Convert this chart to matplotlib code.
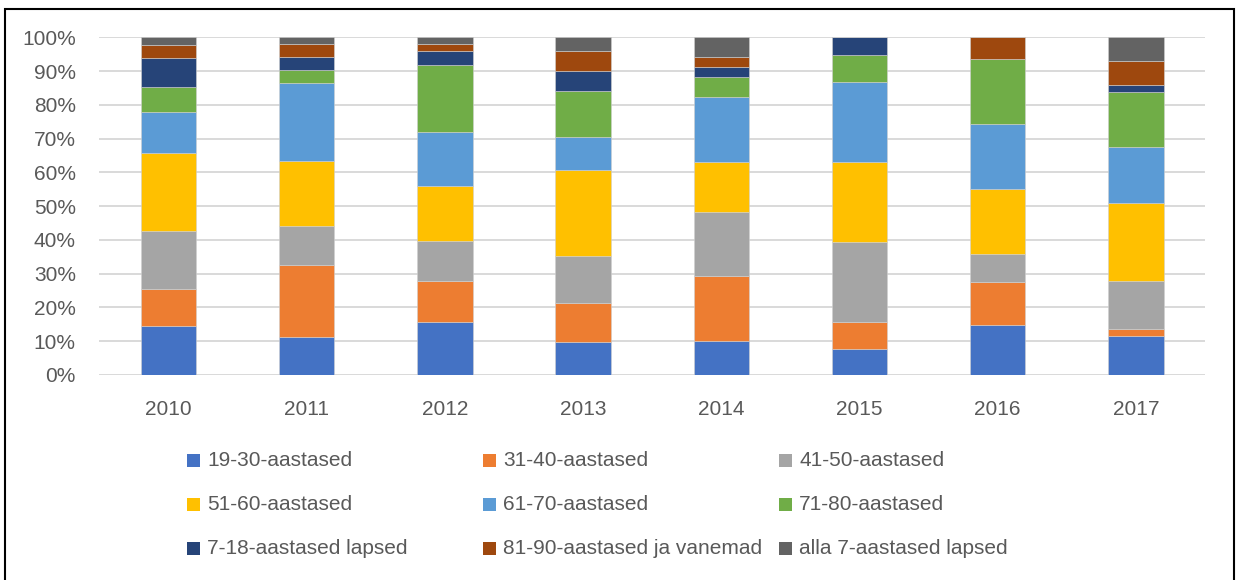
import matplotlib
matplotlib.use("Agg")
import matplotlib.pyplot as plt
from matplotlib.patches import Rectangle
import numpy as np

years = ["2010", "2011", "2012", "2013", "2014", "2015", "2016", "2017"]

labels = [
    "19-30-aastased", "31-40-aastased", "41-50-aastased",
    "51-60-aastased", "61-70-aastased", "71-80-aastased",
    "7-18-aastased lapsed", "81-90-aastased ja vanemad", "alla 7-aastased lapsed",
]

# shares in percent, one list per age group (bottom to top)
age_19_30 = [14.6, 11.4, 15.8, 9.7, 10.2, 7.8, 14.7, 11.5]
age_31_40 = [11.0, 21.1, 12.1, 11.7, 19.2, 7.9, 12.8, 2.2]
age_41_50 = [16.9, 11.6, 11.9, 13.7, 19.0, 23.8, 8.4, 14.0]
age_51_60 = [23.2, 19.3, 16.2, 25.6, 14.8, 23.6, 19.3, 23.3]
age_61_70 = [12.3, 23.1, 15.9, 9.7, 19.1, 23.8, 19.2, 16.4]
age_71_80 = [7.3, 3.8, 20.0, 13.8, 6.0, 7.9, 19.1, 16.3]
age_7_18 = [8.5, 3.8, 4.1, 5.9, 2.8, 5.2, 0.0, 2.3]
age_81_90 = [3.8, 4.0, 1.9, 5.9, 3.0, 0.0, 6.5, 6.9]
age_under_7 = [2.4, 1.9, 2.1, 4.0, 5.9, 0.0, 0.0, 7.1]

series = [age_19_30, age_31_40, age_41_50, age_51_60, age_61_70,
          age_71_80, age_7_18, age_81_90, age_under_7]

colors = ["#4472C4", "#ED7D31", "#A5A5A5", "#FFC000", "#5B9BD5",
          "#70AD47", "#264478", "#9E480E", "#636363"]

text_color = "#595959"
plt.rcParams["font.family"] = ["Liberation Sans", "DejaVu Sans"]

W, H = 1237, 580
fig = plt.figure(figsize=(W / 100, H / 100), dpi=100)
ax = fig.add_axes([99.4 / W, 1 - 375 / H, (1205 - 99.4) / W, (375 - 37.3) / H])

x = np.arange(len(years))
bottom = np.zeros(len(years))
for vals, col, lab in zip(series, colors, labels):
    v = np.array(vals)
    ax.bar(x, v, width=0.4, bottom=bottom, color=col, label=lab,
           edgecolor="#d0d0d0", linewidth=0.4, zorder=3)
    bottom += v

ax.set_xlim(-0.5, len(years) - 0.5)
ax.set_ylim(0, 100)
ax.set_yticks(np.arange(0, 101, 10))
ax.set_yticklabels([f"{t}%" for t in range(0, 101, 10)])
ax.set_xticks(x)
ax.set_xticklabels(years)
ax.tick_params(axis="both", length=0, labelsize=15, colors=text_color)
ax.tick_params(axis="y", pad=17)
ax.tick_params(axis="x", pad=18)
ax.yaxis.grid(True, color="#D9D9D9", linewidth=1.4, zorder=0)
for s in ax.spines.values():
    s.set_visible(False)

# legend, laid out row by row like the original
leg_x = [187, 483, 779]
leg_y = [460, 504, 548]
for i, (lab, col) in enumerate(zip(labels, colors)):
    r, c = divmod(i, 3)
    fig.patches.append(Rectangle(((leg_x[c]) / W, 1 - (leg_y[r] + 6.5) / H),
                                 13 / W, 13 / H, transform=fig.transFigure,
                                 facecolor=col, edgecolor="none"))
    fig.text((leg_x[c] + 20) / W, 1 - leg_y[r] / H, lab, fontsize=15,
             color=text_color, va="center", ha="left")

# outer frame
fig.patches.append(Rectangle((5 / W, -0.01), (1234 - 5) / W, 1 - 9 / H + 0.01,
                             transform=fig.transFigure, fill=False,
                             edgecolor="black", linewidth=1.5))

fig.savefig("out.png", dpi=100)
